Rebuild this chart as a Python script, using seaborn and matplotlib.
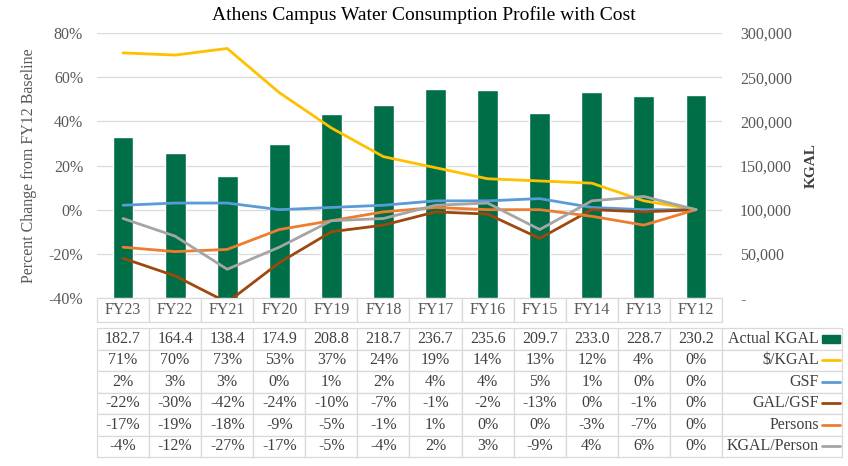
import numpy as np
import pandas as pd
import matplotlib
matplotlib.use("Agg")
import matplotlib.pyplot as plt
import seaborn as sns
from matplotlib.ticker import FuncFormatter

# Data, FY12 -> FY23
years = ["FY12", "FY13", "FY14", "FY15", "FY16", "FY17",
         "FY18", "FY19", "FY20", "FY21", "FY22", "FY23"]
actual_kgal = [230.2, 228.7, 233.0, 209.7, 235.6, 236.7,
               218.7, 208.8, 174.9, 138.4, 164.4, 182.7]  # thousands of KGAL
cost_per_kgal = [0, 4, 12, 13, 14, 19, 24, 37, 53, 73, 70, 71]
gsf = [0, 0, 1, 5, 4, 4, 2, 1, 0, 3, 3, 2]
gal_per_gsf = [0, -1, 0, -13, -2, -1, -7, -10, -24, -42, -30, -22]
persons = [0, -7, -3, 0, 0, 1, -1, -5, -9, -18, -19, -17]
kgal_per_person = [0, 6, 4, -9, 3, 2, -4, -5, -17, -27, -12, -4]

series_names = ["$/KGAL", "GSF", "GAL/GSF", "Persons", "KGAL/Person"]
series_vals = [cost_per_kgal, gsf, gal_per_gsf, persons, kgal_per_person]
series_colors = ["#FFC000", "#5B9BD5", "#9E480E", "#ED7D31", "#A5A5A5"]
bar_color = "#006E47"

sns.set_theme(style="white")
plt.rcParams["font.family"] = ["Liberation Serif", "DejaVu Serif"]

W, H = 848, 466
fig = plt.figure(figsize=(W / 100, H / 100), dpi=100)

# plot area in pixels (chart is laid out mirrored: FY23 left, FY12 right)
px_l, px_r, px_t, px_b = 97, 722, 33, 298
ax = fig.add_axes([px_l / W, 1 - px_b / H, (px_r - px_l) / W, (px_b - px_t) / H])

n = len(years)
df = pd.DataFrame({"year": years, "kgal": np.array(actual_kgal) * 1000})
sns.barplot(data=df, x="year", y="kgal", color=bar_color, saturation=1,
            width=0.4, ax=ax, zorder=2)

# percent lines on twin axis
ax2 = ax.twinx()
for name, vals, c in zip(series_names, series_vals, series_colors):
    sns.lineplot(x=np.arange(n), y=np.array(vals) / 100, color=c, lw=2, ax=ax2)

# KGAL axis on the right
ax.set_xlim(n - 0.5, -0.5)
ax.set_ylim(0, 300000)
ax.set_yticks(np.arange(0, 300001, 50000))
ax.yaxis.set_major_formatter(FuncFormatter(lambda v, p: "-" if v == 0 else f"{v:,.0f}"))
ax.yaxis.tick_right()
ax.yaxis.set_label_position("right")
ax.set_ylabel("KGAL", fontsize=11, fontweight="bold", color="#404040", labelpad=9)
ax.tick_params(axis="y", left=False, labelleft=False, right=False, labelright=True,
               length=0, labelsize=11.5, labelcolor="#595959", pad=13)
ax.set_xticks([])
ax.set_xlabel("")
ax.yaxis.grid(True, color="#D9D9D9", lw=0.9, zorder=0)
ax.set_axisbelow(True)
for s in ax.spines.values():
    s.set_visible(False)

# percent axis on the left
ax2.set_xlim(n - 0.5, -0.5)
ax2.set_ylim(-0.4, 0.8)
ax2.set_yticks(np.arange(-0.4, 0.81, 0.2))
ax2.yaxis.set_major_formatter(FuncFormatter(lambda v, p: f"{v * 100:.0f}%"))
ax2.yaxis.tick_left()
ax2.yaxis.set_label_position("left")
ax2.set_ylabel("Percent Change from FY12 Baseline", fontsize=11.5, color="#595959", labelpad=8)
ax2.tick_params(axis="y", left=False, labelleft=True, right=False, labelright=False,
                length=0, labelsize=11.5, labelcolor="#595959", pad=10)
ax2.patch.set_visible(False)
for s in ax2.spines.values():
    s.set_visible(False)

fig.suptitle("Athens Campus Water Consumption Profile with Cost",
             y=1 - 15 / H, va="center", fontsize=14, color="#000000")

ph = px_b - px_t
pw = px_r - px_l

# category header row
rev = list(range(n - 1, -1, -1))
hdr = ax.table(cellText=[[years[i] for i in rev]], cellLoc="center",
               bbox=[0, -24 / ph, 1, 24 / ph])
hdr.auto_set_font_size(False)
hdr.set_fontsize(11.5)
for cell in hdr.get_celld().values():
    cell.set_edgecolor("#D9D9D9")
    cell.set_linewidth(0.9)
    cell.get_text().set_color("#595959")

# data table with row labels on the right
rows = [[f"{actual_kgal[i]:.1f}" for i in rev] + ["Actual KGAL"]]
for name, vals in zip(series_names, series_vals):
    rows.append([f"{vals[i]}%" for i in rev] + [name.replace("$", r"\$")])
lab_w = 120
tw = (pw + lab_w) / pw
t_top, t_bot = 328, 457
tbl = ax.table(cellText=rows, cellLoc="center",
               colWidths=[1 / n] * n + [lab_w / pw],
               bbox=[0, -(t_bot - px_b) / ph, tw, (t_bot - t_top) / ph])
tbl.auto_set_font_size(False)
tbl.set_fontsize(11.5)
for (r, c), cell in tbl.get_celld().items():
    cell.set_edgecolor("#D9D9D9")
    cell.set_linewidth(0.9)
    cell.get_text().set_color("#404040")
    if c == n:
        cell._loc = "right"
        cell.PAD = 0.19
        cell.get_text().set_ha("right")

# legend keys in the label column
row_h = (t_bot - t_top) / 6
kx0, kx1 = (822 - px_l) / pw, (840 - px_l) / pw
for i, c in enumerate([bar_color] + series_colors):
    yc = -(t_top + row_h * (i + 0.5) - px_b) / ph
    if i == 0:
        ax.add_patch(plt.Rectangle((kx0, yc - 4 / ph), kx1 - kx0, 8 / ph,
                                   transform=ax.transAxes, color=c, clip_on=False))
    else:
        ax.plot([kx0, kx1], [yc, yc], transform=ax.transAxes, color=c, lw=2,
                clip_on=False)

fig.savefig("out.png", dpi=100)
